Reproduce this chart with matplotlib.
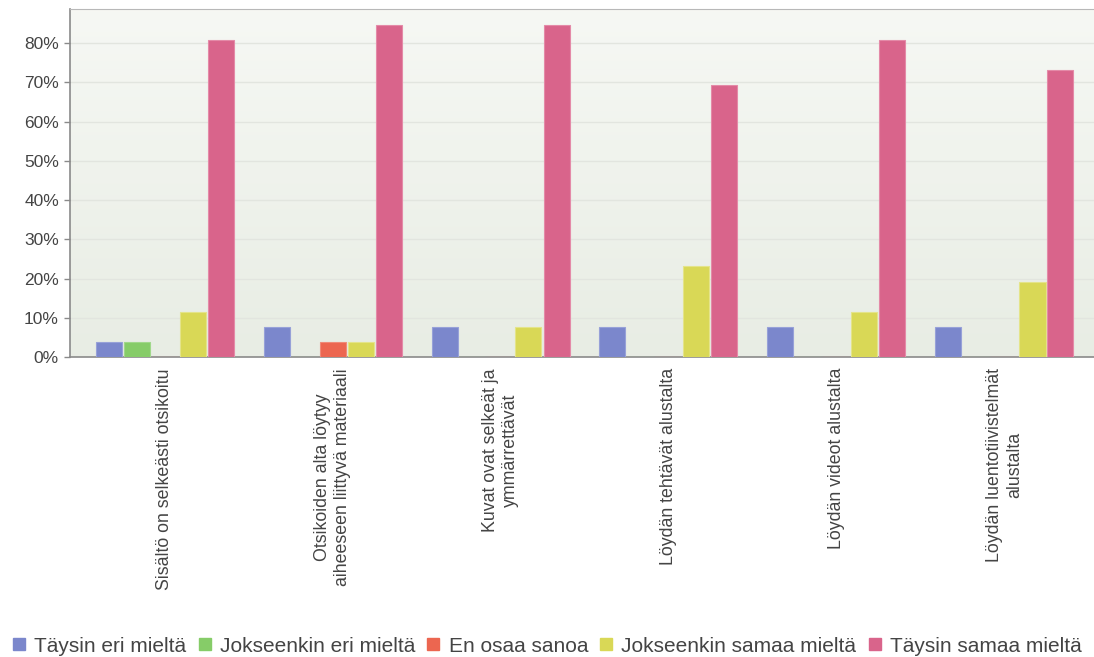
import numpy as np
import matplotlib.pyplot as plt
from matplotlib.lines import Line2D

plt.rcParams['font.family'] = ['Liberation Sans', 'DejaVu Sans']

categories = [
    "Sisältö on selkeästi otsikoitu",
    "Otsikoiden alta löytyy\naiheeseen liittyvä materiaali",
    "Kuvat ovat selkeät ja\nymmärrettävät",
    "Löydän tehtävät alustalta",
    "Löydän videot alustalta",
    "Löydän luentotiivistelmät\nalustalta",
]
series_names = ["Täysin eri mieltä", "Jokseenkin eri mieltä", "En osaa sanoa",
                "Jokseenkin samaa mieltä", "Täysin samaa mieltä"]
taysin_eri = [3.85, 7.69, 7.69, 7.69, 7.69, 7.69]
jokseenkin_eri = [3.85, 0, 0, 0, 0, 0]
en_osaa = [0, 3.85, 0, 0, 0, 0]
jokseenkin_samaa = [11.54, 3.85, 7.69, 23.08, 11.54, 19.23]
taysin_samaa = [80.77, 84.62, 84.62, 69.23, 80.77, 73.08]
values = [taysin_eri, jokseenkin_eri, en_osaa, jokseenkin_samaa, taysin_samaa]
colors = ["#7b87cc", "#86cc68", "#ec6650", "#d9d856", "#d9648b"]
edges = ["#97a1d8", "#a0d88a", "#f08a78", "#e4e48a", "#e48aa8"]
text_color = "#444444"

fig = plt.figure(figsize=(10.94, 6.57), dpi=100)
ax = fig.add_axes([70 / 1094, 1 - 357 / 657, 1030 / 1094, 348 / 657])

# background gradient
grad = np.linspace(0, 1, 256).reshape(-1, 1)
top = np.array([0.965, 0.972, 0.957])
bot = np.array([0.910, 0.929, 0.894])
img = top + (bot - top) * grad[:, :, None]
ax.imshow(img, extent=[0, 1, 0, 1], transform=ax.transAxes, aspect='auto', zorder=0)

x = np.arange(len(categories))
slot = 28 / 168
width = 26 / 168
for i, (vals, c, e) in enumerate(zip(values, colors, edges)):
    ax.bar(x + (i - 2) * slot, vals, width, color=c, edgecolor=e, linewidth=0.8, zorder=3)

ax.set_xlim(-0.5625, -0.5625 + 1030 / 168)
ax.set_ylim(0, 88.7)
ax.set_yticks(np.arange(0, 81, 10))
ax.set_yticklabels([f"{v}%" for v in range(0, 81, 10)])
ax.yaxis.grid(True, color="#e2e5df", linewidth=1, zorder=1)
ax.set_axisbelow(True)
ax.tick_params(axis='y', length=4, width=1, color="#8a8a8a", labelsize=12.5,
               labelcolor=text_color, pad=4)

ax.set_xticks(x)
ax.set_xticklabels(categories, rotation=90, va='top', ha='center',
                   multialignment='center', fontsize=12.8, color=text_color)
ax.tick_params(axis='x', length=0, pad=8)

for s in ['left', 'bottom']:
    ax.spines[s].set_color("#8a8a8a")
    ax.spines[s].set_linewidth(1.2)
ax.spines['top'].set_color("#b8b8b8")
ax.spines['right'].set_visible(False)

handles = [Line2D([0], [0], marker='s', linestyle='none', markersize=8.5,
                  markerfacecolor=c, markeredgecolor=c) for c in colors]
fig.legend(handles, series_names, loc='center', bbox_to_anchor=(0.5, 1 - 646 / 657),
           ncol=5, frameon=False, fontsize=15, handlelength=0.65, handletextpad=0.4,
           columnspacing=0.55, labelcolor=text_color)

fig.savefig("out.png", dpi=100)
